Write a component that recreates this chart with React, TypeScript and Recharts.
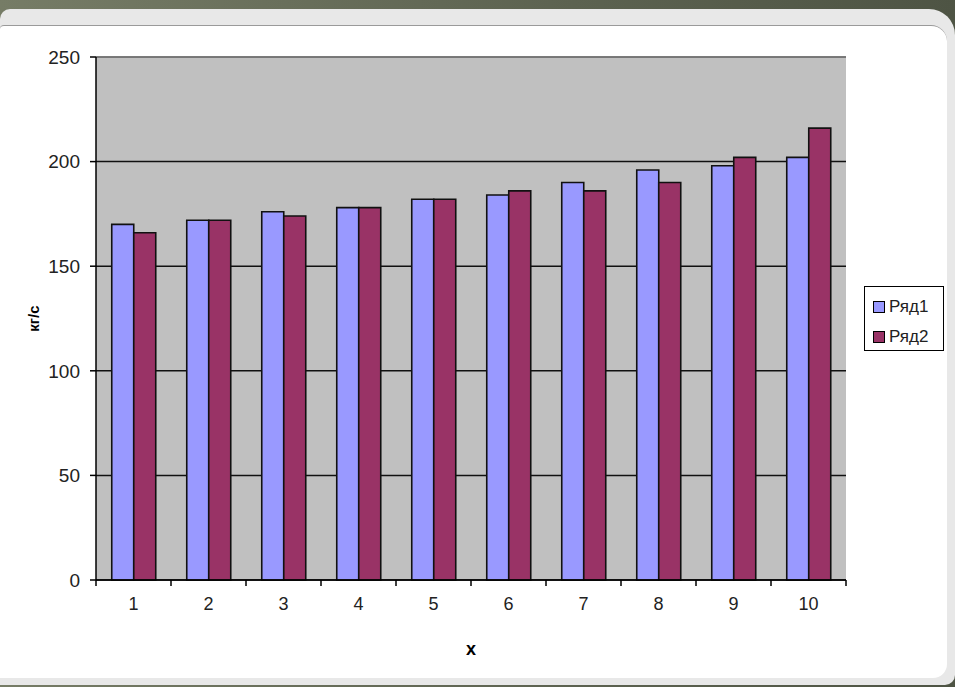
import { Bar, BarChart, CartesianGrid, Legend, ReferenceLine, XAxis, YAxis } from "recharts"

const categories = ["1", "2", "3", "4", "5", "6", "7", "8", "9", "10"]
const row1 = [170, 172, 176, 178, 182, 184, 190, 196, 198, 202]
const row2 = [166, 172, 174, 178, 182, 186, 186, 190, 202, 216]
const yTicks = [0, 50, 100, 150, 200, 250]

const seriesNames = ["Ряд1", "Ряд2"]
const seriesColors = ["#9999ff", "#993366"]

const data = categories.map((x, i) => ({ x, r1: row1[i], r2: row2[i] }))

const W = 955
const H = 687
const PLOT_LEFT = 96
const PLOT_RIGHT = 846
const FONT = "'Liberation Sans', Arial, sans-serif"
const HALF_BAND = (PLOT_RIGHT - PLOT_LEFT) / categories.length / 2

// category labels, with the tick marks sitting on the category boundaries
function XTick(props: any) {
  const { x, y, payload, index } = props
  const top = y - 8
  return (
    <g>
      <line x1={x - HALF_BAND} x2={x - HALF_BAND} y1={top} y2={top + 6} stroke="#000" strokeWidth={1.5} />
      {index === categories.length - 1 && (
        <line x1={x + HALF_BAND} x2={x + HALF_BAND} y1={top} y2={top + 6} stroke="#000" strokeWidth={1.5} />
      )}
      <text x={x} y={y} dy={22} textAnchor="middle" fill="#222" fontSize={18} fontFamily={FONT}>
        {payload.value}
      </text>
    </g>
  )
}

function LegendBox() {
  return (
    <div
      style={{
        width: 80,
        height: 65,
        border: "1px solid #000",
        background: "#fff",
        fontFamily: FONT,
        fontSize: 17,
        color: "#222",
        boxSizing: "border-box",
        padding: "8px 0 0 8px",
      }}
    >
      {seriesNames.map((name, i) => (
        <div key={name} style={{ display: "flex", alignItems: "center", height: 24, marginBottom: 6 }}>
          <span
            style={{
              width: 10,
              height: 10,
              background: seriesColors[i],
              border: "1px solid #000",
              marginRight: 4,
            }}
          />
          {name}
        </div>
      ))}
    </div>
  )
}

export default function App() {
  return (
    <div
      style={{
        position: "absolute",
        left: 0,
        top: 0,
        width: W,
        height: H,
        overflow: "hidden",
        background: "linear-gradient(90deg, #767c66, #5c6250 60%, #4e5444)",
      }}
    >
      <div
        style={{
          position: "absolute",
          left: 0,
          top: 9,
          width: W,
          height: H - 11,
          background: "#e8e8e8",
          borderRadius: "10px 26px 10px 0",
        }}
      />
      <div
        style={{
          position: "absolute",
          left: 0,
          top: 25,
          width: 947,
          height: 652,
          background: "#fff",
          borderTop: "1px solid #9a9a9a",
          borderRadius: "4px 16px 14px 0",
        }}
      />
      <div style={{ position: "absolute", left: 0, top: 0 }}>
        <BarChart
          width={W}
          height={H}
          data={data}
          margin={{ top: 57, right: W - PLOT_RIGHT, bottom: 27, left: 0 }}
          barCategoryGap="21%"
          barGap={0}
        >
          <CartesianGrid vertical={false} stroke="#111" strokeWidth={1.5} fill="#c0c0c0" fillOpacity={1} />
          <XAxis
            dataKey="x"
            height={80}
            axisLine={{ stroke: "#000", strokeWidth: 1.5 }}
            tickLine={false}
            tick={<XTick />}
            interval={0}
            label={{
              value: "x",
              position: "insideBottom",
              offset: 5,
              fill: "#000",
              fontSize: 18,
              fontWeight: "bold",
              fontFamily: FONT,
            }}
          />
          <YAxis
            width={PLOT_LEFT}
            domain={[0, 250]}
            ticks={yTicks}
            axisLine={{ stroke: "#000", strokeWidth: 1.5 }}
            tickLine={{ stroke: "#000", strokeWidth: 1.5 }}
            tickSize={6}
            tickMargin={10}
            tick={{ fill: "#222", fontSize: 19, fontFamily: FONT }}
            label={{
              value: "кг/с",
              angle: -90,
              position: "center",
              dx: -14,
              fill: "#000",
              fontSize: 15,
              fontWeight: "bold",
              fontFamily: FONT,
            }}
          />
          <YAxis
            yAxisId="frame"
            orientation="right"
            width={0}
            domain={[0, 250]}
            tick={false}
            tickLine={false}
            axisLine={{ stroke: "#8a8a8a" }}
          />
          <ReferenceLine y={250} stroke="#8a8a8a" strokeWidth={1.5} />
          <Legend
            layout="vertical"
            align="center"
            verticalAlign="middle"
            content={<LegendBox />}
            wrapperStyle={{ left: 864, top: 286, width: 80, height: 65 }}
          />
          <Bar dataKey="r1" name={seriesNames[0]} fill={seriesColors[0]} stroke="#111" strokeWidth={1.6} isAnimationActive={false} />
          <Bar dataKey="r2" name={seriesNames[1]} fill={seriesColors[1]} stroke="#111" strokeWidth={1.6} isAnimationActive={false} />
        </BarChart>
      </div>
    </div>
  )
}
